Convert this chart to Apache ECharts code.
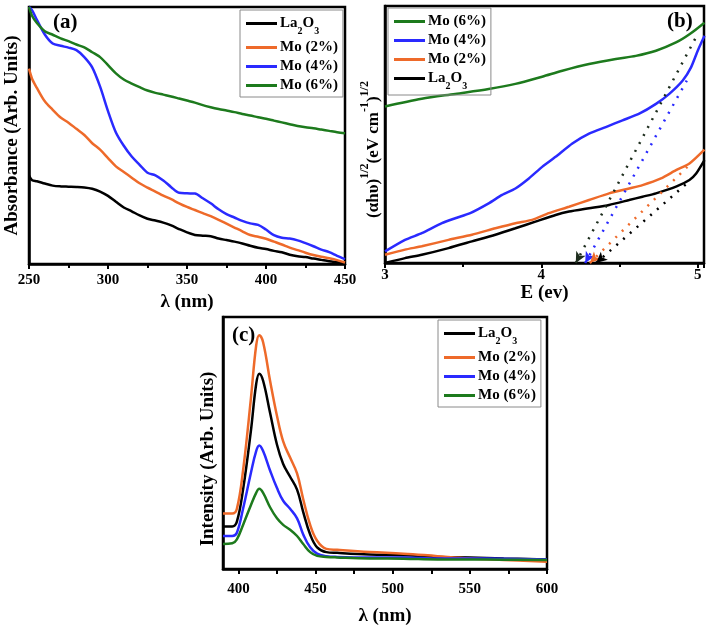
<!DOCTYPE html>
<html><head><meta charset="utf-8">
<script src="https://cdn.jsdelivr.net/npm/echarts@6/dist/echarts.min.js"></script>
<style>html,body{margin:0;padding:0;background:#fff}#c{width:709px;height:627px}</style>
</head><body><div id="c"></div>
<script>
// ---------- Panel (a): absorbance ----------
const aWave = [250,252,255,260,265,270,275,280,285,290,295,300,305,310,315,320,325,330,335,340,345,350,355,360,365,370,375,380,385,390,395,400,405,410,415,420,425,430,435,440,445,450];
const aLa2O3 = [34.4,32.6,32.2,31.3,30.5,30.2,30.1,30.0,29.8,29.3,28.2,26.5,24.2,22.0,20.5,18.9,17.6,16.9,16.1,15.0,13.6,12.3,11.3,11.0,10.8,9.9,9.3,8.7,8.0,7.1,6.3,5.8,5.1,4.6,3.6,3.0,2.7,2.1,1.6,1.1,0.7,0.3];
const aMo2 = [76,72,68.5,63.3,60.0,57.0,55.0,52.6,50.2,47.0,44.5,41.2,38.0,35.8,33.6,31.4,29.7,28.2,26.6,25.2,23.6,22.2,21.0,19.8,18.6,17.2,15.7,14.2,12.7,11.3,10.6,9.8,8.7,7.6,6.4,5.4,4.4,3.5,2.8,2.2,1.5,0.6];
const aMo4 = [100,98.7,95,89.3,85.8,84.9,84.2,83.2,80.5,76.5,69,59.5,51.2,46,41.8,38.6,35.5,34.5,32.5,29.9,27.7,27.5,27.4,25.6,23.6,21.3,19.4,18.1,16.8,15.8,15.2,13.4,11.2,10.2,9.9,9.2,8.1,6.9,5.6,4.6,3.2,1.9];
const aMo6 = [100,96.5,93.8,90.6,89.2,87.8,86.7,85.4,84.3,82.4,80.5,77.4,74.2,71.8,70.2,68.8,67.5,66.6,65.9,65.2,64.4,63.6,62.8,61.8,61.0,60.3,59.7,59.1,58.4,57.8,57.1,56.5,55.8,55.1,54.4,53.7,53.2,52.8,52.3,51.8,51.3,50.9];

// ---------- Panel (b): Tauc plot ----------
const bMo6E = [3.0,3.235,3.449,3.663,3.834,4.005,4.134,4.305,4.476,4.604,4.733,4.861,4.947,5.043];
const bMo6Y = [60.9,63.9,65.8,67.7,69.7,72.5,74.8,77.4,79.4,80.6,82.6,85.8,89,93.5];
const bMo4E = [3.0,3.128,3.235,3.364,3.449,3.545,3.663,3.749,3.834,3.92,4.005,4.091,4.198,4.305,4.412,4.519,4.626,4.733,4.818,4.904,4.957,5.0,5.043];
const bMo4Y = [4.5,9,11.6,15.5,17.4,19.4,23.2,26.5,29,32.9,37.4,41.3,46.5,50.3,52.9,55.5,58.1,61.9,65.8,71,76.1,82.6,88.4];
const bMo2E = [3.0,3.128,3.235,3.406,3.556,3.706,3.834,3.941,4.048,4.177,4.305,4.433,4.561,4.647,4.765,4.861,4.947,5.043];
const bMo2Y = [3.2,5.2,6.5,9,11,13.5,15.5,16.8,19.4,21.9,24.5,27.1,29,30.3,32.9,36.1,38.7,44.1];
const bLaE = [3.0,3.128,3.235,3.406,3.556,3.706,3.834,3.962,4.091,4.177,4.305,4.433,4.561,4.647,4.733,4.861,4.947,4.99,5.043];
const bLaY = [0,1.9,3.2,5.8,8.4,11,13.5,16.1,18.7,20,21.3,22.6,24.5,25.8,27.1,29.7,32.3,34.8,40];
// tangent (band-gap) extrapolations: [E, y] at arrow end and upper end
const tanMo6 = [[4.22,0],[4.99,88]];
const tanMo4 = [[4.28,0],[4.93,71]];
const tanMo2 = [[4.31,0],[4.96,39]];
const tanLa = [[4.35,0],[4.95,32]];

// ---------- Panel (c): PL ----------
const cWave = [390,396,399,403,408,411.5,413.5,416,420.5,425,429,433.5,438,442,446.5,451,457,464,485,507,529,550,572,600];
const cLa2O3 = [16.9,16.9,18.8,31.5,54.4,73.4,77.5,74.7,62,49.3,41.7,36.6,31.5,22.6,13.7,8.6,6.7,6.4,5.8,5.5,4.8,4.6,4.2,3.8];
const cMo2 = [22,22,23.9,39.1,67.1,88.7,92.8,90,74.7,60.7,50.6,44.2,37.9,27.7,17.5,11.2,8,7.6,6.7,6.1,5.1,4.2,3.6,2.9];
const cMo4 = [13.1,13.1,14.4,23.9,37.9,46.8,49,46.8,39.1,32.1,27.1,23.9,20.1,13.7,8.6,6.1,5.1,4.8,4.6,4.6,4.2,4.2,4.1,3.8];
const cMo6 = [9.9,10.2,11.8,17.5,25.2,30.2,31.8,30.2,24.5,20.1,17.5,15.6,13.1,9.9,6.7,5.2,4.8,4.6,4.2,4.1,3.8,3.8,3.7,3.6];
const cTickLabels = [400,450,500,550,600];
const cTicks = [400,425,450,475,500,525,550,575,600];

const names = ['La2O3','Mo (2%)','Mo (4%)','Mo (6%)'];
const colors = {'La2O3':'#000000','Mo (2%)':'#ee6a2a','Mo (4%)':'#2a2aff','Mo (6%)':'#1d7a1d'};
const FONT = 'Liberation Serif';

function zip(x, y){ return x.map((v,i)=>[v,y[i]]); }
function ser(name, idx, data, smooth){
  return {name, type:'line', xAxisIndex:idx, yAxisIndex:idx, data, showSymbol:false, smooth:smooth,
    lineStyle:{color:colors[name], width:2.5}, itemStyle:{color:colors[name]}, silent:true, z:3};
}
function tangent(name, pts, dotColor){
  return {name:'t_'+name, type:'line', xAxisIndex:1, yAxisIndex:1, data:[], silent:true,
    markLine:{silent:true, symbol:['arrow','none'], symbolSize:[8,11], animation:false,
      label:{show:false}, lineStyle:{type:[2,7], width:2.5, color:dotColor},
      itemStyle:{color:colors[name]},
      data:[[{coord:pts[0], lineStyle:{color:dotColor}, itemStyle:{color:colors[name]}},{coord:pts[1]}]]}};
}
const legendRich = {
  n:{fontFamily:FONT, fontWeight:'bold', fontSize:15, color:'#000', lineHeight:18, verticalAlign:'middle'},
  s:{fontFamily:FONT, fontWeight:'bold', fontSize:10, color:'#000', lineHeight:25, verticalAlign:'bottom'}
};
function legendFmt(n){ return n==='La2O3' ? '{n|La}{s|2}{n|O}{s|3}' : '{n|'+n+'}'; }
function legend(left, top, data){
  return {left, top, orient:'vertical', data, icon:'rect', itemWidth:31, itemHeight:3, itemGap:4,
    borderColor:'#8a8a8a', borderWidth:1, padding:[6,5,4,6], selectedMode:false,
    formatter:legendFmt, textStyle:{rich:legendRich, padding:[0,0,0,-2]}};
}
function xAx(idx, min, max, interval, name, nameGap, labelMargin){
  return {type:'value', gridIndex:idx, min, max, interval, name, nameLocation:'middle', nameGap,
    nameTextStyle:{fontFamily:FONT, fontWeight:'bold', fontSize:19, color:'#000'},
    axisLine:{lineStyle:{color:'#000', width:2.5}},
    axisTick:{inside:false, length:5, lineStyle:{color:'#000', width:2}},
    minorTick:{show:true, splitNumber:2, length:4, lineStyle:{color:'#000', width:2}},
    splitLine:{show:false},
    axisLabel:{margin:labelMargin, fontFamily:FONT, fontWeight:'bold', fontSize:15, color:'#000'}};
}
function yAx(idx, name, nameGap, nts){
  return {type:'value', gridIndex:idx, min:0, max:100, name, nameLocation:'middle', nameGap,
    nameTextStyle:Object.assign({fontFamily:FONT, fontWeight:'bold', fontSize:19, color:'#000'}, nts||{}),
    axisLine:{lineStyle:{color:'#000', width:2.5}}, axisTick:{show:false}, axisLabel:{show:false}, splitLine:{show:false}};
}
const gridStyle = {show:true, borderColor:'#000', borderWidth:2.5, backgroundColor:'transparent'};

const xc = xAx(2, 390, 600, 50, 'λ (nm)', 38, 13);
xc.axisLabel.customValues = cTickLabels;
xc.axisTick.customValues = cTicks;
xc.minorTick = {show:false};

const option = {
  animation:false,
  backgroundColor:'#fff',
  grid:[
    Object.assign({left:29, top:7, width:316, height:257}, gridStyle),
    Object.assign({left:385, top:6, width:319, height:257}, gridStyle),
    Object.assign({left:223, top:317, width:324, height:261}, gridStyle)
  ],
  xAxis:[
    xAx(0, 250, 450, 50, 'λ (nm)', 29, 9),
    xAx(1, 3, 5.04, 1, 'E (ev)', 21, 5),
    xc
  ],
  yAxis:[
    yAx(0, 'Absorbance (Arb. Units)', 7),
    yAx(1, '{t|(αhυ)}{sup|1/2}{t|(eV cm}{sup|-1}{t|)}{sup|1/2}', 3, {
      padding:[0,30,0,0],
      rich:{
        t:{fontFamily:FONT, fontWeight:'bold', fontSize:17, color:'#000', lineHeight:23, verticalAlign:'bottom'},
        sup:{fontFamily:FONT, fontWeight:'bold', fontSize:12, color:'#000', lineHeight:23, verticalAlign:'top'}
      }}),
    yAx(2, 'Intensity (Arb. Units)', 5, {padding:[0,32,0,0]})
  ],
  legend:[
    legend(240, 10, names),
    legend(388, 8, ['Mo (6%)','Mo (4%)','Mo (2%)','La2O3']),
    legend(438, 320, names)
  ],
  graphic:[
    {type:'text', left:53, top:12, style:{text:'(a)', font:'bold 21px "Liberation Serif"', fill:'#000'}},
    {type:'text', left:667, top:11, style:{text:'(b)', font:'bold 21px "Liberation Serif"', fill:'#000'}},
    {type:'text', left:232, top:325, style:{text:'(c)', font:'bold 21px "Liberation Serif"', fill:'#000'}}
  ],
  series:[
    ser('La2O3',0,zip(aWave,aLa2O3),0.3), ser('Mo (2%)',0,zip(aWave,aMo2),0.3),
    ser('Mo (4%)',0,zip(aWave,aMo4),0.3), ser('Mo (6%)',0,zip(aWave,aMo6),0.3),
    ser('La2O3',1,zip(bLaE,bLaY),0.2), ser('Mo (2%)',1,zip(bMo2E,bMo2Y),0.2),
    ser('Mo (4%)',1,zip(bMo4E,bMo4Y),0.2), ser('Mo (6%)',1,zip(bMo6E,bMo6Y),0.3),
    tangent('Mo (6%)', tanMo6, '#1e2e1e'), tangent('Mo (4%)', tanMo4, '#2a2aff'),
    tangent('Mo (2%)', tanMo2, '#ee6a2a'), tangent('La2O3', tanLa, '#000'),
    ser('La2O3',2,zip(cWave,cLa2O3),0.4), ser('Mo (2%)',2,zip(cWave,cMo2),0.4),
    ser('Mo (4%)',2,zip(cWave,cMo4),0.4), ser('Mo (6%)',2,zip(cWave,cMo6),0.4)
  ]
};
const chart = echarts.init(document.getElementById('c'), null, {renderer:'canvas'});
chart.setOption(option);
</script></body></html>
